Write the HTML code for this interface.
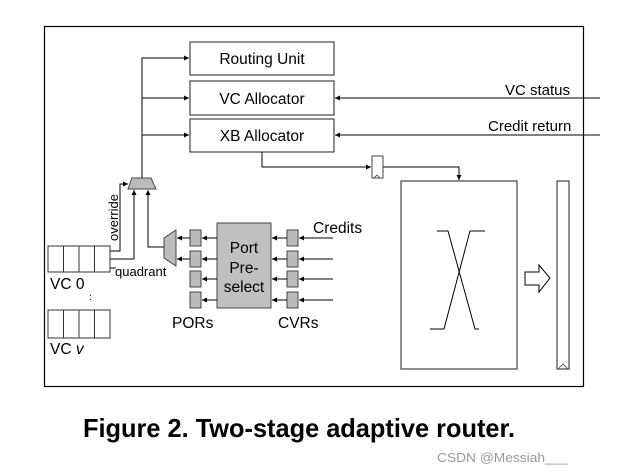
<!DOCTYPE html>
<html><head><meta charset="utf-8"><style>body{margin:0;background:#fff}svg{display:block}</style></head><body>
<svg width="632" height="472" viewBox="0 0 632 472" xmlns="http://www.w3.org/2000/svg" font-family="Liberation Sans, Arial, sans-serif">
<defs><marker id="a" viewBox="0 0 6 6" refX="6" refY="3" markerWidth="5" markerHeight="5" orient="auto"><path d="M0,0L6,3L0,6z" fill="#000"/></marker></defs>
<rect x="44.5" y="26.5" width="539" height="360" fill="#fff" stroke="#000" stroke-width="1.2"/>
<g fill="#fff" stroke="#444" stroke-width="1.2">
<rect x="190" y="42" width="144" height="33"/>
<rect x="190" y="81" width="144" height="34"/>
<rect x="190" y="119" width="144" height="33"/>
</g>
<g font-size="15.5" text-anchor="middle" fill="#000">
<text x="262" y="64">Routing Unit</text>
<text x="262" y="104">VC Allocator</text>
<text x="262" y="141">XB Allocator</text>
</g>
<g stroke="#000" stroke-width="1" fill="none">
<path d="M142,178V58H189" marker-end="url(#a)"/>
<path d="M142,98H189" marker-end="url(#a)"/>
<path d="M142,135H189" marker-end="url(#a)"/>
<path d="M600,98H335" marker-end="url(#a)"/>
<path d="M600,135H335" marker-end="url(#a)"/>
<path d="M262,152V167H371" marker-end="url(#a)"/>
<path d="M383,167H459V180" marker-end="url(#a)"/>
<path d="M110,251H120V184H128" marker-end="url(#a)"/>
<path d="M110,259H134V190" marker-end="url(#a)"/>
<path d="M164,247H148V190" marker-end="url(#a)"/>
<path d="M110,268H116"/>
</g>
<text x="505" y="95" font-size="15">VC status</text>
<text x="488" y="131" font-size="15">Credit return</text>
<rect x="372" y="156" width="11" height="22" fill="#fff" stroke="#444"/>
<path d="M374,178l3,-3l3,3" fill="none" stroke="#444" stroke-width=".8"/>
<rect x="401" y="181" width="116" height="188" fill="#fff" stroke="#444" stroke-width="1.2"/>
<g stroke="#000" fill="none" stroke-width="1">
<path d="M437,231H448L475,329H479"/>
<path d="M485,231H470L444,329H430"/>
</g>
<path d="M525,272H539V265L550,278L539,292V285H525Z" fill="#fff" stroke="#000"/>
<rect x="557" y="181" width="12" height="188" fill="#fff" stroke="#444" stroke-width="1.2"/>
<path d="M558,369l5,-5l5,5" fill="none" stroke="#444" stroke-width=".8"/>
<path d="M132,178H151L156,189H128Z" fill="#bbb" stroke="#444"/>
<path d="M176,230L164,238V258L176,266Z" fill="#bbb" stroke="#444"/>
<g fill="#fff" stroke="#333">
<rect x="48" y="246" width="62" height="26"/><path d="M63.5,246V272M79,246V272M94.5,246V272"/>
<rect x="48" y="310" width="62" height="28"/><path d="M63.5,310V338M79,310V338M94.5,310V338"/>
</g>
<text x="50" y="289" font-size="15.5">VC 0</text>
<text x="50" y="354" font-size="15.5">VC <tspan font-style="italic">v</tspan></text>
<text x="89" y="296" font-size="10">.</text><text x="89" y="300" font-size="10">.</text>
<text x="115" y="276" font-size="13">quadrant</text>
<text transform="translate(118,241) rotate(-90)" font-size="13">override</text>
<rect x="217" y="223" width="54" height="85" fill="#c0c0c0" stroke="#444"/>
<g font-size="15.5" text-anchor="middle"><text x="244" y="253">Port</text><text x="244" y="273">Pre-</text><text x="244" y="292">select</text></g>
<g stroke="#444" fill="#bbb">
<rect x="190" y="230" width="11" height="16"/><rect x="190" y="251" width="11" height="16"/><rect x="190" y="271" width="11" height="16"/><rect x="190" y="292" width="11" height="16"/>
<rect x="287" y="230" width="11" height="16"/><rect x="287" y="251" width="11" height="16"/><rect x="287" y="271" width="11" height="16"/><rect x="287" y="292" width="11" height="16"/>
</g>
<g stroke="#000" stroke-width="1" fill="none">
<path d="M190,238H177" marker-end="url(#a)"/><path d="M190,259H177" marker-end="url(#a)"/>
<path d="M217,238H202" marker-end="url(#a)"/><path d="M217,259H202" marker-end="url(#a)"/><path d="M217,279H202" marker-end="url(#a)"/><path d="M217,300H202" marker-end="url(#a)"/>
<path d="M287,238H272" marker-end="url(#a)"/><path d="M287,259H272" marker-end="url(#a)"/><path d="M287,279H272" marker-end="url(#a)"/><path d="M287,300H272" marker-end="url(#a)"/>
<path d="M333,238H299" marker-end="url(#a)"/><path d="M333,259H299" marker-end="url(#a)"/><path d="M333,279H299" marker-end="url(#a)"/><path d="M333,300H299" marker-end="url(#a)"/>
</g>
<text x="313" y="233" font-size="15.5">Credits</text>
<text x="172" y="328" font-size="15.5">PORs</text>
<text x="278" y="328" font-size="15.5">CVRs</text>
<text x="83" y="437" font-size="26" font-weight="bold" textLength="432" lengthAdjust="spacingAndGlyphs">Figure 2. Two-stage adaptive router.</text>
<text x="437" y="462" font-size="13" fill="#999" textLength="131" lengthAdjust="spacingAndGlyphs">CSDN @Messiah___</text>
</svg>
</body></html>
